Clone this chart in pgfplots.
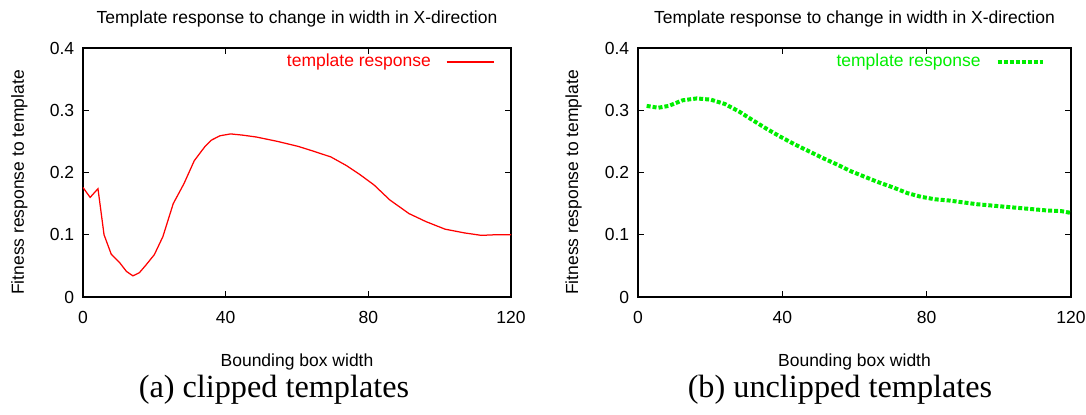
\documentclass[border=0pt]{standalone}
\usepackage{fontspec}
\setmainfont{Liberation Sans}
\newfontfamily\capfont{Liberation Serif}
\usepackage{pgfplots}
\pgfplotsset{compat=1.18}

\definecolor{gpred}{RGB}{255,0,0}
\definecolor{gpgreen}{RGB}{0,238,0}

% clipped templates
\pgfplotstableread{
x y
0 0.176
2 0.160
4.2 0.174
5.9 0.100
7.9 0.069
10.3 0.055
12.2 0.041
14 0.034
15.8 0.039
17.6 0.051
20 0.068
22.4 0.097
25.3 0.150
28.3 0.182
31.2 0.219
34.1 0.241
36 0.252
38.4 0.259
41.4 0.262
44.8 0.260
48.6 0.257
54.5 0.250
60.3 0.242
64.2 0.235
69.5 0.225
73.9 0.211
77.8 0.196
81.6 0.180
86 0.156
91.4 0.134
96.2 0.121
101.5 0.109
106.9 0.103
111.7 0.099
115.6 0.100
120 0.100
}\clipped

% unclipped templates
\pgfplotstableread{
x y
2.4 0.307
5.6 0.304
8.5 0.307
12.4 0.316
16.3 0.319
20.2 0.317
24.1 0.310
28 0.298
31.8 0.284
35.7 0.270
39.6 0.257
43.5 0.245
47.4 0.234
51.3 0.223
55.1 0.213
59 0.202
62.9 0.193
66.8 0.184
70.7 0.176
74.6 0.167
78.4 0.161
82.3 0.157
86.2 0.155
90.1 0.152
94 0.149
97.9 0.147
101.7 0.145
105.6 0.143
109.5 0.141
113.4 0.139
117.3 0.138
120 0.135
}\unclipped

\pgfplotsset{
  every axis title shift=0pt,
  gp/.style={
    scale only axis, height=99.6pt,
    xmin=0, xmax=120, ymin=0, ymax=0.4,
    xtick={0,40,80,120}, ytick={0,0.1,0.2,0.3,0.4},
    minor tick num=0,
    tick align=inside, major tick length=2.4pt,
    axis line style={line width=0.6pt},
    every tick/.style={black, line width=0.5pt},
    font=\fontsize{7}{8}\selectfont,
    ticklabel style={font=\fontsize{7}{8}\selectfont},
    /pgf/number format/assume math mode=true,
    yticklabel style={/pgf/number format/fixed, /pgf/number format/precision=1},
    xticklabel style={yshift=-2pt},
    title={Template response to change in width in X-direction},
    title style={at={(axis description cs:0.5,1)}, anchor=center, yshift=11.6pt},
    xlabel={Bounding box width},
    xlabel style={at={(axis description cs:0.5,0)}, anchor=center, yshift=-26pt},
    ylabel={Fitness response to template},
    ylabel style={at={(axis description cs:-0.149,0.46)}, anchor=center},
    legend plot pos=right,
    legend style={draw=none, fill=none, anchor=east, inner sep=0pt,
      font=\fontsize{7}{8}\selectfont},
    legend cell align=right,
  },
}

\begin{document}
\begin{tikzpicture}
\path[use as bounding box] (-33.2pt,-47.2pt) rectangle (401.2pt,118.8pt);

\begin{axis}[gp, at={(0pt,0pt)}, anchor=origin, width=171.2pt,
  legend style={at={(axis description cs:0.963,0.944)}, text=gpred},
  legend image code/.code={\path (0pt,0pt); \draw[#1] (4pt,0pt) -- (23pt,0pt);}]
\addplot[gpred, line width=0.5pt] table[x=x, y=y] {\clipped};
\addlegendentry{template response}
\end{axis}

\begin{axis}[gp, at={(222pt,0pt)}, anchor=origin, width=173.2pt,
  legend style={at={(axis description cs:0.94,0.944)}, text=gpgreen},
  legend image code/.code={\path (0pt,0pt); \draw[#1] (4pt,0pt) -- (22pt,0pt);}]
\addplot[gpgreen, line width=1.6pt, dash pattern=on 1.6pt off 0.8pt] table[x=x, y=y] {\unclipped};
\addlegendentry{template response}
\end{axis}

\node[font=\capfont\fontsize{12.9}{14}\selectfont] at (76.4pt,-37.2pt) {(a) clipped templates};
\node[font=\capfont\fontsize{12.9}{14}\selectfont] at (302.8pt,-37.2pt) {(b) unclipped templates};
\end{tikzpicture}
\end{document}
